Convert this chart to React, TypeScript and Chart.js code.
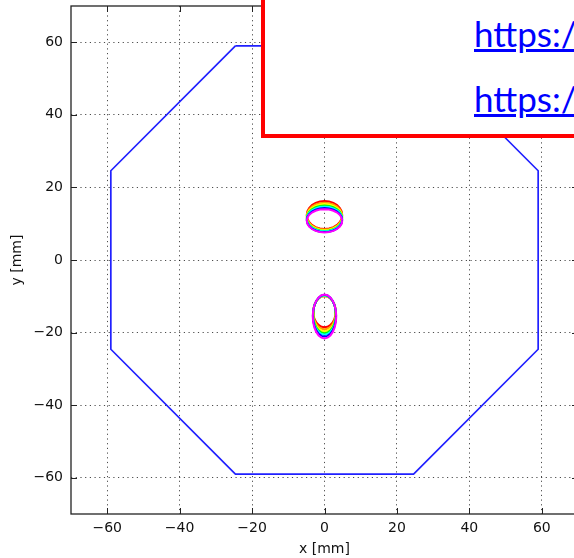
import React, { useEffect, useRef } from 'react';
import { Chart, registerables } from 'chart.js';

Chart.register(...registerables);

// ---- data ----
const X_TICKS = [-60, -40, -20, 0, 20, 40, 60];
const Y_TICKS = [-60, -40, -20, 0, 20, 40, 60];
const AXIS_MIN = -70;
const AXIS_MAX = 70;

const OCTAGON_X = [-24.6, 24.6, 59, 59, 24.6, -24.6, -59, -59, -24.6];
const OCTAGON_Y = [59, 59, 24.6, -24.6, -59, -59, -24.6, 24.6, 59];

const RING_COLORS = ['#ff0000', '#ff9900', '#ffff00', '#00ff00', '#00ffff', '#0000ff', '#ff00ff'];

// upper spot (one ring per colour)
const UPPER_CX = [0, 0, 0, 0, 0, 0, 0];
const UPPER_CY = [12.4, 12.1, 11.8, 11.5, 11.3, 11.0, 10.8];
const UPPER_RX = [4.9, 4.9, 4.9, 4.9, 4.9, 4.9, 4.9];
const UPPER_RY = [3.85, 3.7, 3.6, 3.5, 3.4, 3.3, 3.2];

// lower spot (one ring per colour)
const LOWER_CX = [0, 0, 0, 0, 0, 0, 0];
const LOWER_CY = [-14.25, -14.5, -14.75, -14.95, -15.15, -15.35, -15.55];
const LOWER_RX = [3.1, 3.1, 3.15, 3.15, 3.2, 3.2, 3.25];
const LOWER_RY = [4.3, 4.6, 4.9, 5.2, 5.45, 5.75, 6.05];

// unit outline used for the ring shapes (15° steps)
const UNIT_X = [1, 0.9659, 0.866, 0.7071, 0.5, 0.2588, 0, -0.2588, -0.5, -0.7071, -0.866, -0.9659, -1,
  -0.9659, -0.866, -0.7071, -0.5, -0.2588, 0, 0.2588, 0.5, 0.7071, 0.866, 0.9659, 1];
const UNIT_Y = [0, 0.2588, 0.5, 0.7071, 0.866, 0.9659, 1, 0.9659, 0.866, 0.7071, 0.5, 0.2588, 0,
  -0.2588, -0.5, -0.7071, -0.866, -0.9659, -1, -0.9659, -0.866, -0.7071, -0.5, -0.2588, 0];

const X_TITLE = 'x [mm]';
const Y_TITLE = 'y [mm]';
const LINK_LINES = ['https:/', 'https:/'];

function ring(cx: number, cy: number, rx: number, ry: number) {
  return UNIT_X.map((u, i) => ({ x: cx + rx * u, y: cy + ry * UNIT_Y[i] }));
}

const fmt = (v: number) => (v < 0 ? '\u2212' + Math.abs(v) : String(v));

const framePlugin = {
  id: 'frameTicks',
  afterDatasetsDraw(chart: any) {
    const { ctx, chartArea: a, scales } = chart;
    ctx.save();
    ctx.strokeStyle = '#222';
    ctx.lineWidth = 1.3;
    ctx.setLineDash([]);
    ctx.strokeRect(a.left, a.top, a.right - a.left, a.bottom - a.top);
    ctx.lineWidth = 1;
    ctx.beginPath();
    for (const v of X_TICKS) {
      const x = Math.round(scales.x.getPixelForValue(v)) + 0.5;
      ctx.moveTo(x, a.bottom);
      ctx.lineTo(x, a.bottom - 6);
      ctx.moveTo(x, a.top);
      ctx.lineTo(x, a.top + 6);
    }
    for (const v of Y_TICKS) {
      const y = Math.round(scales.y.getPixelForValue(v)) + 0.5;
      ctx.moveTo(a.left, y);
      ctx.lineTo(a.left + 6, y);
      ctx.moveTo(a.right, y);
      ctx.lineTo(a.right - 6, y);
    }
    ctx.stroke();
    ctx.restore();
  },
};

export default function App() {
  const ref = useRef<HTMLCanvasElement | null>(null);

  useEffect(() => {
    if (!ref.current) return;
    const datasets: any[] = [];
    datasets.push({
      label: 'outline',
      data: OCTAGON_X.map((x, i) => ({ x, y: OCTAGON_Y[i] })),
      showLine: true,
      borderColor: '#2020ff',
      borderWidth: 1.7,
      pointRadius: 0,
      order: 20,
    });
    RING_COLORS.forEach((c, i) => {
      datasets.push({
        label: 'upper ' + i,
        data: ring(UPPER_CX[i], UPPER_CY[i], UPPER_RX[i], UPPER_RY[i]),
        showLine: true,
        borderColor: c,
        borderWidth: 2,
        pointRadius: 0,
        order: RING_COLORS.length - i,
      });
      datasets.push({
        label: 'lower ' + i,
        data: ring(LOWER_CX[i], LOWER_CY[i], LOWER_RX[i], LOWER_RY[i]),
        showLine: true,
        borderColor: c,
        borderWidth: 2,
        pointRadius: 0,
        order: RING_COLORS.length - i,
      });
    });

    const tickFont = { family: 'DejaVu Sans', size: 14 };
    const chart = new Chart(ref.current, {
      type: 'scatter',
      data: { datasets },
      plugins: [framePlugin],
      options: {
        responsive: false,
        animation: false,
        layout: { padding: { top: 6, right: 22, left: 0, bottom: 0 } },
        plugins: { legend: { display: false }, tooltip: { enabled: false } },
        scales: {
          x: {
            type: 'linear',
            min: AXIS_MIN,
            max: AXIS_MAX,
            afterBuildTicks: (s: any) => { s.ticks = X_TICKS.map((value) => ({ value })); },
            afterFit: (s: any) => { s.height = 44; s.paddingLeft = 0; s.paddingRight = 0; },
            ticks: { callback: (v: any) => fmt(Number(v)), font: tickFont, color: '#111', padding: 6, maxRotation: 0 },
            grid: { color: 'rgba(0,0,0,0.7)', lineWidth: 1, drawTicks: false },
            border: { display: false, dash: [1.2, 3.5] },
            title: { display: true, text: X_TITLE, font: tickFont, color: '#111', padding: { top: 0, bottom: 0 } },
          },
          y: {
            type: 'linear',
            min: AXIS_MIN,
            max: AXIS_MAX,
            afterBuildTicks: (s: any) => { s.ticks = Y_TICKS.map((value) => ({ value })); },
            afterFit: (s: any) => { s.width = 71; s.paddingTop = 0; s.paddingBottom = 0; },
            ticks: { callback: (v: any) => fmt(Number(v)), font: tickFont, color: '#111', padding: 8 },
            grid: { color: 'rgba(0,0,0,0.7)', lineWidth: 1, drawTicks: false },
            border: { display: false, dash: [1.2, 3.5] },
            title: { display: true, text: Y_TITLE, font: tickFont, color: '#111', padding: { top: 9, bottom: 0 } },
          },
        },
      } as any,
    });
    return () => chart.destroy();
  }, []);

  return (
    <div style={{ position: 'fixed', left: 0, top: 0, width: 574, height: 558, overflow: 'hidden', background: '#fff' }}>
      <canvas ref={ref} width={600} height={558} style={{ display: 'block', width: 600, height: 558 }} />
      <div
        style={{
          position: 'absolute',
          left: 261,
          top: -20,
          width: 420,
          height: 157.5,
          boxSizing: 'border-box',
          border: '4px solid #ff0000',
          background: '#fff',
        }}
      />
      {LINK_LINES.map((t, i) => (
        <div
          key={i}
          style={{
            position: 'absolute',
            left: 474,
            top: 16 + i * 65,
            fontFamily: 'Lato, sans-serif',
            fontSize: 35,
            lineHeight: '35px',
            color: '#0000ff',
            textDecoration: 'underline',
            whiteSpace: 'nowrap',
          }}
        >
          {t}
        </div>
      ))}
    </div>
  );
}
